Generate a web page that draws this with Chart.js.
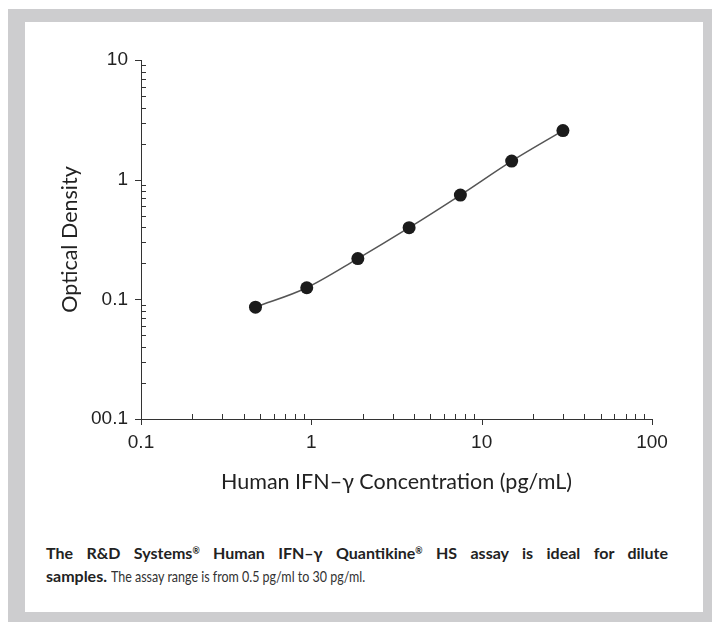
<!DOCTYPE html>
<html>
<head>
<meta charset="utf-8">
<script src="https://cdn.jsdelivr.net/npm/chart.js@4/dist/chart.umd.min.js"></script>
<style>
  body { margin: 0; background: #fff; }
  #frame { position: absolute; left: 8px; top: 9px; width: 704px; height: 613px; background: #cdcdcf; }
  #inner { position: absolute; left: 17px; top: 13px; width: 678px; height: 590px; background: #fff; }
  #wrap { position: absolute; left: 0; top: 0; width: 712px; height: 500px; }
  #caption {
    position: absolute; left: 46px; top: 541px; width: 622px;
    font-family: Lato, "Noto Sans", sans-serif; font-size: 16px; line-height: 23px;
    color: #222;
  }
  #caption .first { text-align: justify; text-align-last: justify; }
  #caption b { font-weight: 700; }
  #caption .plain { display: inline-block; transform: scaleX(0.78); transform-origin: left center; color: #333; }
  #caption sup { font-size: 0.55em; vertical-align: 0.6em; line-height: 0; }
</style>
</head>
<body>
<div id="frame"><div id="inner"></div></div>
<div id="wrap"><canvas id="curve"></canvas></div>
<div id="caption">
  <div class="first"><b>The R&amp;D Systems<sup>®</sup> Human IFN–γ Quantikine<sup>®</sup> HS assay is ideal for dilute</b></div>
  <div><b>samples.</b> <span class="plain">The assay range is from 0.5 pg/ml to 30 pg/ml.</span></div>
</div>
<script>
// standard curve
var concentration = [0.47, 0.94, 1.875, 3.75, 7.5, 15, 30];
var opticalDensity = [0.086, 0.125, 0.219, 0.397, 0.744, 1.43, 2.57];

var xTickValues = [0.1, 1, 10, 100];
var xTickLabels = ['0.1', '1', '10', '100'];
var yTickValues = [0.01, 0.1, 1, 10];
var yTickLabels = ['00.1', '0.1', '1', '10'];

var axisColor = '#333';

// small log ticks: minor ones point inward, major ones outward
var tickMarks = {
    id: 'tickMarks',
    afterDraw: function(chart) {
        var ctx = chart.ctx;
        var area = chart.chartArea;
        var x = chart.scales.x;
        var y = chart.scales.y;
        ctx.save();
        ctx.strokeStyle = axisColor;
        ctx.lineWidth = 1;
        ctx.beginPath();
        for (var d = x.min; d < x.max * 0.999; d *= 10) {
            for (var k = 2; k < 10; k++) {
                var px = Math.round(x.getPixelForValue(d * k)) + 0.5;
                ctx.moveTo(px, area.bottom);
                ctx.lineTo(px, area.bottom - 5);
            }
        }
        xTickValues.forEach(function(v) {
            var px = Math.round(x.getPixelForValue(v)) + 0.5;
            ctx.moveTo(px, area.bottom);
            ctx.lineTo(px, area.bottom + 6);
        });
        for (var e = y.min; e < y.max * 0.999; e *= 10) {
            for (var j = 2; j < 10; j++) {
                var py = Math.round(y.getPixelForValue(e * j)) + 0.5;
                ctx.moveTo(area.left, py);
                ctx.lineTo(area.left + 5, py);
            }
        }
        yTickValues.forEach(function(v) {
            var py = Math.round(y.getPixelForValue(v)) + 0.5;
            ctx.moveTo(area.left, py);
            ctx.lineTo(area.left - 6, py);
        });
        ctx.stroke();
        ctx.restore();
    }
};

var tickFont = { family: '"Liberation Sans", Arial, sans-serif', size: 19 };
var titleFont = { family: 'Lato, "Noto Sans", sans-serif', size: 21.5 };

var ctx = document.getElementById('curve').getContext('2d');
var chart = new Chart(ctx, {
    type: 'line',
    data: {
        datasets: [
            {
                data: concentration.map(function(c, i) { return { x: c, y: opticalDensity[i] }; }),
                borderColor: '#555',
                borderWidth: 1.5,
                cubicInterpolationMode: 'monotone',
                pointRadius: 6.5,
                pointHoverRadius: 6.5,
                pointBackgroundColor: '#1b1b1b',
                pointBorderWidth: 0,
                fill: false
            }
        ]
    },
    options: {
        responsive: true,
        maintainAspectRatio: false,
        animation: false,
        layout: {
            padding: { top: 60, right: 60, bottom: 0, left: 0 }
        },
        plugins: {
            legend: { display: false },
            tooltip: { enabled: false }
        },
        scales: {
            x: {
                type: 'logarithmic',
                min: 0.1,
                max: 100,
                afterBuildTicks: function(scale) {
                    scale.ticks = xTickValues.map(function(v) { return { value: v }; });
                },
                afterFit: function(scale) { scale.height = 81; },
                grid: { display: true, drawOnChartArea: false, drawTicks: false },
                border: { display: true, color: axisColor, width: 1 },
                ticks: {
                    autoSkip: false,
                    maxRotation: 0,
                    padding: 12,
                    color: '#222',
                    font: tickFont,
                    callback: function(value, index) { return xTickLabels[index]; }
                },
                title: {
                    display: true,
                    text: 'Human IFN–γ Concentration (pg/mL)',
                    color: '#222',
                    font: titleFont,
                    padding: { top: 0, bottom: 5 }
                }
            },
            y: {
                type: 'logarithmic',
                min: 0.01,
                max: 10,
                afterBuildTicks: function(scale) {
                    scale.ticks = yTickValues.map(function(v) { return { value: v }; });
                },
                afterFit: function(scale) { scale.width = 141; },
                grid: { display: true, drawOnChartArea: false, drawTicks: false },
                border: { display: true, color: axisColor, width: 1 },
                ticks: {
                    autoSkip: false,
                    padding: 13,
                    color: '#222',
                    font: tickFont,
                    callback: function(value, index) { return yTickLabels[index]; }
                },
                title: {
                    display: true,
                    text: 'Optical Density',
                    color: '#222',
                    font: titleFont,
                    padding: { top: 57, bottom: 0 }
                }
            }
        }
    },
    plugins: [tickMarks]
});
</script>
</body>
</html>
